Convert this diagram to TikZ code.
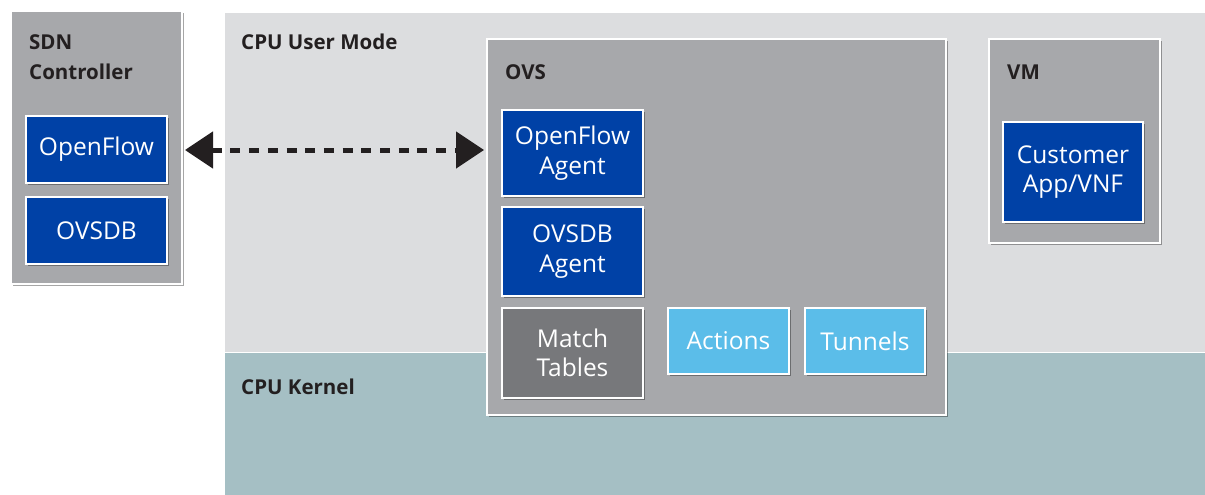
\documentclass[tikz,border=0pt]{standalone}
\usepackage{fontspec}
\setmainfont{Open Sans}
\usetikzlibrary{shadows,arrows.meta}
\definecolor{boxgray}{HTML}{A7A8AB}
\definecolor{bggray}{HTML}{DCDDDF}
\definecolor{kernel}{HTML}{A5BFC4}
\definecolor{dblue}{HTML}{0041A6}
\definecolor{lblue}{HTML}{5BBDE9}
\definecolor{mgray}{HTML}{77787B}
\definecolor{txt}{HTML}{231F20}
\tikzset{
  container/.style={draw=white, line width=2pt, fill=boxgray, inner sep=0pt,
    drop shadow={shadow xshift=2pt, shadow yshift=-2pt, opacity=0.35, fill=black}},
  comp/.style={draw=white, line width=2pt, inner sep=0pt, text=white, align=center,
    font=\fontsize{24.5}{29.5}\selectfont,
    drop shadow={shadow xshift=2pt, shadow yshift=-2pt, opacity=0.35, fill=black}},
  darkcomp/.style={comp, fill=dblue},
  lightcomp/.style={comp, fill=lblue},
  graycomp/.style={comp, fill=mgray},
  title/.style={anchor=base west, inner sep=0pt, text=txt, align=left,
    font=\bfseries\fontsize{20.5}{29}\selectfont},
  region/.style={inner sep=0pt, draw=none},
}
\begin{document}
\begin{tikzpicture}[x=1pt,y=-1pt]
\useasboundingbox[fill=white] (0,0) rectangle (1205,495);
% regions
\node[region, fill=bggray, minimum width=980pt, minimum height=339pt, anchor=north west] (user) at (225,13) {};
\node[region, fill=kernel, minimum width=980pt, minimum height=143pt, anchor=north west] (kern) at (225,352) {};
\draw[white, line width=1pt] (kern.north west) -- (kern.north east);
\node[title] (usertitle) at (241,50) {CPU User Mode};
\node[title] (kerntitle) at (241,394) {CPU Kernel};
% SDN controller
\node[container, minimum width=171pt, minimum height=273pt] (sdn) at (96.5,147.5) {};
\node[title] (sdntitle) at (29,79) {SDN\\Controller};
\node[darkcomp, minimum width=141pt, minimum height=67pt] (of) at (96.5,149.5) {OpenFlow};
\node[darkcomp, minimum width=141pt, minimum height=67pt] (ovsdb) at (96.5,230.5) {OVSDB};
% OVS
\node[container, minimum width=459pt, minimum height=376pt] (ovs) at (716.5,227) {};
\node[title] (ovstitle) at (505,79) {OVS};
\node[darkcomp, minimum width=141pt, minimum height=86pt] (ofa) at (572.5,153) {OpenFlow\\Agent};
\node[darkcomp, minimum width=141pt, minimum height=89pt] (ovsdba) at (572.5,251.5) {OVSDB\\Agent};
\node[graycomp, minimum width=141pt, minimum height=90pt] (match) at (572.5,353) {Match\\Tables};
\node[lightcomp, minimum width=121pt, minimum height=66pt] (act) at (728.5,341) {Actions};
\node[lightcomp, minimum width=120pt, minimum height=66pt] (tun) at (865,341) {Tunnels};
% VM
\node[container, minimum width=171pt, minimum height=204pt] (vm) at (1074.5,141) {};
\node[title] (vmtitle) at (1007,79) {VM};
\node[darkcomp, minimum width=140pt, minimum height=100pt] (app) at (1073,172) {Customer\\App/VNF};
% arrow
\draw[line width=5pt, dash pattern=on 10pt off 8.7pt,
  {Triangle[length=28pt,width=36pt]}-{Triangle[length=28pt,width=36pt]}, color=txt]
  ([xshift=2pt]sdn.east |- 0,150) -- ([xshift=-2pt]ovs.west |- 0,150);
\end{tikzpicture}
\end{document}
